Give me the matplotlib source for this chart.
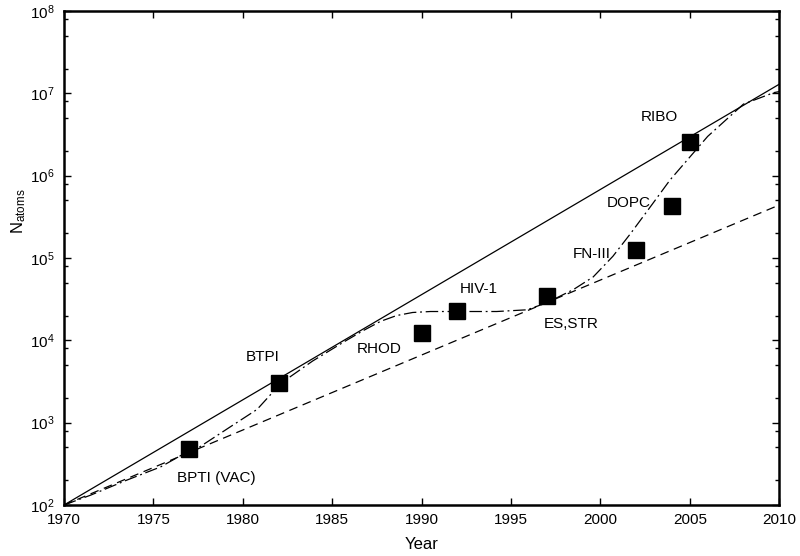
import matplotlib
matplotlib.use("Agg")
import matplotlib.pyplot as plt
import numpy as np
from matplotlib.ticker import LogLocator, NullFormatter

plt.rcParams['font.family'] = ['Liberation Sans', 'DejaVu Sans']
plt.rcParams['mathtext.fontset'] = 'custom'
plt.rcParams['mathtext.rm'] = 'Liberation Sans'
plt.rcParams['mathtext.it'] = 'Liberation Sans:italic'

# Simulated systems (year, number of atoms)
names = ["BPTI (VAC)", "BTPI", "RHOD", "HIV-1", "ES,STR", "FN-III", "DOPC", "RIBO"]
years = [1977, 1982, 1990, 1992, 1997, 2002, 2004, 2005]
atoms = [480, 3000, 12300, 22500, 35000, 126000, 430000, 2.6e6]

# label offsets from each square, in pixels
label_dx = [27, -16, -42, 21, 24, -44, -43, -30]
label_dy = [-29, 26, -16, 22, -28, -4, 3, 25]

# straight trend lines (end points)
fast_years = [1970, 2010]
fast_atoms = [100, 1.29e7]
slow_years = [1970, 2010]
slow_atoms = [100, 4.4e5]

# dash-dot curve
curve_years = [1970, 1971.5, 1973.5, 1975.4, 1977.0, 1977.6, 1979.3, 1980.8, 1982.0,
               1982.6, 1983.9, 1984.9, 1985.8, 1986.7, 1987.7, 1988.6, 1989.5, 1990.5,
               1992.0, 1994.2, 1995.9, 1997.0, 1998.5, 1999.6, 2000.7, 2001.7, 2002.9,
               2003.9, 2006.0, 2008.0, 2009.7, 2010]
curve_atoms = [100, 132, 200, 290, 455, 510, 890, 1450, 2800,
               3550, 5600, 7600, 10000, 13000, 17000, 20000, 21800, 22400,
               22400, 22400, 23500, 28600, 41500, 59000, 105000, 200000, 450000,
               890000, 3.0e6, 7.4e6, 1.02e7, 1.05e7]

fig = plt.figure(figsize=(8, 5.56), dpi=100)
ax = fig.add_axes([0.08, 0.0917, 0.894, 0.8885])

ax.plot(fast_years, fast_atoms, color="black", lw=0.9)
ax.plot(slow_years, slow_atoms, color="black", lw=0.9, linestyle=(0, (7, 4.5)))
ax.plot(curve_years, curve_atoms, color="black", lw=0.9, linestyle=(0, (10, 3, 1.5, 3)))
ax.plot(years, atoms, "s", color="black", markersize=11.5, linestyle="none")

for name, x, y, dx, dy in zip(names, years, atoms, label_dx, label_dy):
    ax.annotate(name, (x, y), xytext=(dx, dy), textcoords="offset pixels",
                ha="center", va="center", fontsize=11)

ax.set_yscale("log")
ax.set_xlim(1970, 2010)
ax.set_ylim(1e2, 1e8)
ax.set_xticks(np.arange(1970, 2011, 5))
ax.yaxis.set_major_locator(LogLocator(base=10, numticks=10))
ax.yaxis.set_minor_locator(LogLocator(base=10, subs=(2, 5, 8), numticks=10))
ax.yaxis.set_minor_formatter(NullFormatter())

ax.tick_params(which="both", direction="in", top=True, right=True, labelsize=11)
ax.tick_params(which="major", length=5, width=1)
ax.tick_params(which="minor", length=3, width=1)
ax.tick_params(axis="y", pad=7)
ax.tick_params(axis="x", pad=6)
for s in ax.spines.values():
    s.set_linewidth(1.8)

ax.set_xlabel("Year", fontsize=12, labelpad=7)
ax.set_ylabel(r"N$_{\mathrm{atoms}}$", fontsize=12)
ax.yaxis.set_label_coords(-0.05, 0.595)

plt.savefig("out.png", dpi=100)
